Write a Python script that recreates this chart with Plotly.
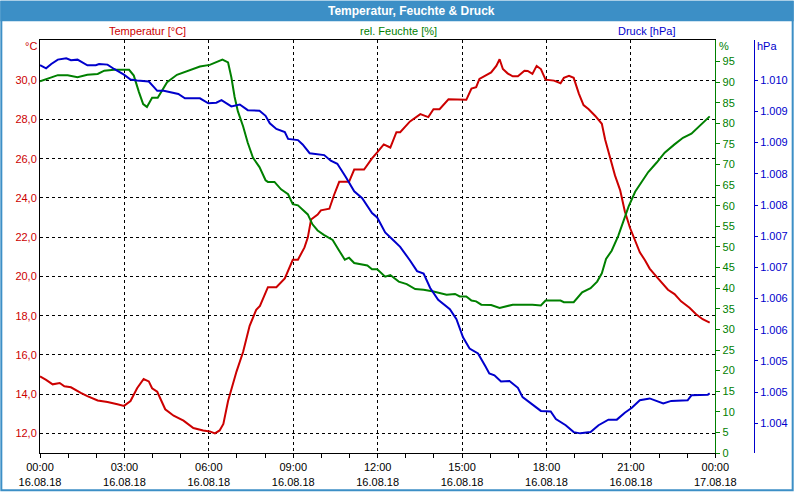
import plotly.graph_objects as go

DAY = "2018-08-16 "

# ---- Temperatur [°C] ----
temp_time = ["00:00", "00:13", "00:27", "00:42", "00:52", "01:06", "01:27", "01:41", "02:03", "02:24",
             "02:45", "02:59", "03:13", "03:27", "03:41", "03:52", "03:59", "04:10", "04:27", "04:45",
             "05:06", "05:27", "05:48", "06:02", "06:13", "06:23", "06:31", "06:41", "06:59", "07:13",
             "07:27", "07:41", "07:49", "08:06", "08:24", "08:42", "08:59", "09:10", "09:24", "09:31",
             "09:38", "09:52", "09:59", "10:17", "10:27", "10:38", "10:59", "11:10", "11:31", "11:48",
             "11:59", "12:13", "12:27", "12:40", "12:48", "13:09", "13:31", "13:48", "13:59", "14:12",
             "14:31", "15:09", "15:20", "15:30", "15:37", "15:51", "16:02", "16:13", "16:20", "16:27",
             "16:37", "16:48", "16:59", "17:13", "17:20", "17:30", "17:39", "17:48", "17:58", "18:16",
             "18:30", "18:37", "18:48", "18:58", "19:09", "19:19", "19:30", "19:44", "19:58", "20:05",
             "20:16", "20:26", "20:37", "20:47", "20:58", "21:09", "21:19", "21:30", "21:40", "21:55",
             "22:05", "22:19", "22:33", "22:47", "23:05", "23:19", "23:33", "23:48"]
temp_vals = [14.9, 14.73, 14.5, 14.57, 14.4, 14.35, 14.07, 13.9, 13.68, 13.6,
             13.48, 13.4, 13.65, 14.3, 14.77, 14.65, 14.3, 14.12, 13.23, 12.9,
             12.65, 12.27, 12.15, 12.1, 12.0, 12.15, 12.48, 13.65, 15.15, 16.15,
             17.48, 18.3, 18.5, 19.45, 19.45, 19.9, 20.85, 20.85, 21.48, 21.98,
             22.9, 23.15, 23.37, 23.45, 24.15, 24.82, 24.82, 25.45, 25.45, 26.02,
             26.32, 26.73, 26.57, 27.35, 27.35, 27.9, 28.27, 28.12, 28.52, 28.52,
             29.03, 29.0, 29.57, 29.65, 30.07, 30.27, 30.4, 30.73, 31.07, 30.57,
             30.35, 30.2, 30.2, 30.48, 30.47, 30.32, 30.73, 30.57, 30.03, 29.98,
             29.85, 30.12, 30.22, 30.12, 29.32, 28.73, 28.52, 28.18, 27.78, 26.98,
             25.98, 25.15, 24.4, 23.32, 22.48, 21.82, 21.23, 20.82, 20.4, 19.98,
             19.68, 19.32, 19.1, 18.73, 18.4, 18.07, 17.82, 17.65]

# ---- rel. Feuchte [%] ----
hum_time = ["00:00", "00:17", "00:38", "00:59", "01:20", "01:41", "02:03", "02:17", "02:38", "03:10",
            "03:20", "03:31", "03:40", "03:48", "03:59", "04:11", "04:20", "04:31", "04:52", "05:20",
            "05:41", "06:02", "06:16", "06:29", "06:41", "06:48", "06:55", "07:02", "07:13", "07:23",
            "07:34", "07:48", "08:01", "08:06", "08:20", "08:34", "08:49", "08:59", "09:10", "09:31",
            "09:41", "09:52", "10:06", "10:24", "10:38", "10:50", "10:59", "11:10", "11:38", "11:48",
            "11:59", "12:16", "12:27", "12:45", "13:02", "13:20", "13:38", "13:59", "14:27", "14:45",
            "14:55", "15:09", "15:20", "15:30", "15:41", "16:02", "16:20", "16:34", "16:48", "17:30",
            "17:48", "17:58", "18:30", "18:37", "18:58", "19:16", "19:34", "19:48", "19:58", "20:07",
            "20:19", "20:33", "20:44", "20:55", "21:09", "21:23", "21:37", "21:55", "22:12", "22:33",
            "22:51", "23:09", "23:30", "23:48"]
hum_vals = [90.2, 90.8, 91.7, 91.7, 91.2, 91.8, 92.0, 92.8, 93.0, 93.0,
            91.6, 87.6, 84.7, 84.0, 86.2, 86.2, 88.0, 90.0, 91.8, 93.0,
            93.8, 94.2, 94.8, 95.5, 94.8, 91.2, 86.4, 82.9, 79.3, 75.3,
            71.7, 69.4, 66.2, 65.8, 65.8, 64.0, 62.8, 60.4, 60.1, 57.9,
            55.5, 54.0, 52.9, 51.7, 49.1, 46.9, 47.4, 46.1, 45.5, 44.6,
            44.6, 42.8, 43.2, 41.6, 41.0, 39.8, 39.6, 39.2, 38.4, 38.6,
            38.0, 38.0, 37.0, 36.8, 36.0, 35.9, 35.2, 35.6, 36.0, 36.0,
            35.8, 37.0, 37.0, 36.6, 36.6, 39.0, 40.0, 41.6, 43.6, 47.1,
            49.1, 52.7, 56.3, 59.8, 63.4, 65.8, 68.2, 70.5, 72.9, 74.9,
            76.5, 77.5, 79.7, 81.7]

# ---- Druck [hPa] ----
pres_time = ["00:00", "00:13", "00:24", "00:38", "00:56", "01:06", "01:20", "01:41", "01:59", "02:06",
             "02:24", "02:38", "02:59", "03:13", "03:27", "03:52", "04:03", "04:10", "04:24", "04:34",
             "04:55", "05:09", "05:41", "05:59", "06:16", "06:27", "06:48", "07:06", "07:23", "07:48",
             "08:01", "08:10", "08:24", "08:42", "08:49", "09:10", "09:20", "09:35", "10:06", "10:20",
             "10:34", "10:52", "11:10", "11:27", "11:48", "11:59", "12:16", "12:34", "12:48", "13:09",
             "13:24", "13:38", "13:52", "14:09", "14:34", "14:48", "15:02", "15:16", "15:34", "15:50",
             "15:58", "16:09", "16:23", "16:41", "16:59", "17:09", "17:27", "17:48", "18:09", "18:20",
             "18:41", "18:58", "19:12", "19:34", "19:51", "20:12", "20:30", "20:47", "21:02", "21:19",
             "21:40", "21:55", "22:09", "22:26", "22:44", "23:01", "23:09", "23:44", "23:48"]
pres_vals = [1010.24, 1010.19, 1010.26, 1010.33, 1010.35, 1010.32, 1010.33, 1010.24, 1010.24, 1010.26,
             1010.25, 1010.18, 1010.09, 1010.01, 1009.995, 1009.98, 1009.89, 1009.83, 1009.83, 1009.81,
             1009.78, 1009.71, 1009.71, 1009.63, 1009.64, 1009.68, 1009.58, 1009.61, 1009.52, 1009.51,
             1009.43, 1009.31, 1009.22, 1009.17, 1009.06, 1009.04, 1008.97, 1008.83, 1008.80, 1008.71,
             1008.66, 1008.45, 1008.22, 1008.11, 1007.87, 1007.80, 1007.56, 1007.43, 1007.33, 1007.11,
             1006.94, 1006.90, 1006.67, 1006.48, 1006.33, 1006.17, 1005.88, 1005.70, 1005.62, 1005.41,
             1005.30, 1005.27, 1005.17, 1005.18, 1005.07, 1004.92, 1004.82, 1004.70, 1004.69, 1004.57,
             1004.47, 1004.36, 1004.34, 1004.36, 1004.47, 1004.56, 1004.56, 1004.67, 1004.75, 1004.87,
             1004.90, 1004.86, 1004.82, 1004.86, 1004.87, 1004.87, 1004.95, 1004.96, 1004.98]

# ---- axis ticks / labels ----
x_tick_times = ["2018-08-16 00:00", "2018-08-16 03:00", "2018-08-16 06:00", "2018-08-16 09:00",
                "2018-08-16 12:00", "2018-08-16 15:00", "2018-08-16 18:00", "2018-08-16 21:00",
                "2018-08-17 00:00"]
x_tick_labels = ["00:00<br>16.08.18", "03:00<br>16.08.18", "06:00<br>16.08.18", "09:00<br>16.08.18",
                 "12:00<br>16.08.18", "15:00<br>16.08.18", "18:00<br>16.08.18", "21:00<br>16.08.18",
                 "00:00<br>17.08.18"]
temp_ticks = [12, 14, 16, 18, 20, 22, 24, 26, 28, 30]
temp_tick_labels = ["12,0", "14,0", "16,0", "18,0", "20,0", "22,0", "24,0", "26,0", "28,0", "30,0"]
hum_ticks = [0, 5, 10, 15, 20, 25, 30, 35, 40, 45, 50, 55, 60, 65, 70, 75, 80, 85, 90, 95]
pres_ticks = [1004.5, 1005.0, 1005.5, 1006.0, 1006.5, 1007.0, 1007.5, 1008.0, 1008.5, 1009.0, 1009.5, 1010.0]
pres_tick_labels = ["1.004", "1.005", "1.005", "1.006", "1.006", "1.007", "1.007", "1.008", "1.008",
                    "1.009", "1.009", "1.010"]

RED = "#cc0000"
GREEN = "#008000"
BLUE = "#0000cc"
BAR = "#3c8fc6"
FONT = "Liberation Sans"

# pixel -> paper helpers (plot box spans x 40..760, y 40..461)
def px(x):
    return (x - 40) / 720.0

def py(y):
    return (461 - y) / 421.0

fig = go.Figure()
fig.add_trace(go.Scatter(x=[DAY + t for t in temp_time], y=temp_vals, mode="lines",
                         line=dict(color=RED, width=2), yaxis="y", name="Temperatur [°C]"))
fig.add_trace(go.Scatter(x=[DAY + t for t in hum_time], y=hum_vals, mode="lines",
                         line=dict(color=GREEN, width=2), yaxis="y2", name="rel. Feuchte [%]"))
fig.add_trace(go.Scatter(x=[DAY + t for t in pres_time], y=pres_vals, mode="lines",
                         line=dict(color=BLUE, width=2), yaxis="y3", name="Druck [hPa]"))

fig.update_layout(
    width=800, height=500,
    margin=dict(l=40, r=40, t=40, b=39, pad=0),
    paper_bgcolor="white", plot_bgcolor="white",
    showlegend=False,
    font=dict(family=FONT, size=11, color="black"),
    xaxis=dict(
        type="date", domain=[0, 681 / 720.0],
        range=["2018-08-16 00:00", "2018-08-17 00:00"],
        tickmode="array", tickvals=x_tick_times, ticktext=x_tick_labels,
        ticks="outside", ticklen=4, tickcolor="black", tickwidth=1,
        minor=dict(dtick=3600000, tick0="2018-08-16 00:00", ticks="outside", ticklen=4,
                   tickcolor="black", showgrid=False),
        showline=True, linecolor="black", linewidth=1, mirror=True,
        showgrid=True, gridcolor="black", gridwidth=1, griddash="3px,3px",
        zeroline=False, tickfont=dict(family=FONT, size=11, color="black"),
    ),
    yaxis=dict(
        range=[11, 32.05], tickmode="array", tickvals=temp_ticks, ticktext=temp_tick_labels,
        ticks="", showline=True, linecolor="black", linewidth=1,
        showgrid=True, gridcolor="black", gridwidth=1, griddash="3px,3px",
        zeroline=False, tickfont=dict(family=FONT, size=11, color=RED),
    ),
    yaxis2=dict(
        overlaying="y", side="right", anchor="x",
        range=[0, 421 / 4.2], tickmode="array", tickvals=hum_ticks,
        ticks="outside", ticklen=4, tickcolor=GREEN, showline=True, linecolor=GREEN, linewidth=1,
        showgrid=False, zeroline=False, tickfont=dict(family=FONT, size=11, color=GREEN),
    ),
    yaxis3=dict(
        overlaying="y", side="right", anchor="free", position=1.0,
        range=[1010 - 380 / 63.6, 1010 + 41 / 63.6], tickmode="array", tickvals=pres_ticks,
        ticktext=pres_tick_labels,
        ticks="outside", ticklen=3, tickcolor=BLUE, showline=True, linecolor=BLUE, linewidth=1,
        showgrid=False, zeroline=False, tickfont=dict(family=FONT, size=11, color=BLUE),
    ),
)

shapes = [
    dict(type="rect", xref="paper", yref="paper", x0=px(0), x1=px(800), y0=py(21), y1=py(0),
         fillcolor=BAR, line=dict(width=0), layer="below"),
    dict(type="rect", xref="paper", yref="paper", x0=px(1), x1=px(799), y0=py(499), y1=py(1),
         fillcolor="rgba(0,0,0,0)", line=dict(color=BAR, width=2), layer="above"),
]
fig.update_layout(shapes=shapes)

ann = [
    dict(text="<b>Temperatur, Feuchte &amp; Druck</b>", x=px(415), y=py(10), font=dict(color="white", size=12)),
    dict(text="Temperatur [°C]", x=px(148), y=py(31), font=dict(color=RED, size=11)),
    dict(text="rel. Feuchte [%]", x=px(402), y=py(31), font=dict(color=GREEN, size=11)),
    dict(text="Druck [hPa]", x=px(652), y=py(31), font=dict(color=BLUE, size=11)),
    dict(text="°C", x=px(31), y=py(46), font=dict(color=RED, size=11)),
    dict(text="%", x=px(730), y=py(46), font=dict(color=GREEN, size=11)),
    dict(text="hPa", x=px(773), y=py(46), font=dict(color=BLUE, size=11)),
]
for a in ann:
    fig.add_annotation(xref="paper", yref="paper", xanchor="center", yanchor="middle",
                       showarrow=False, font_family=FONT, **{k: v for k, v in a.items()})

fig.write_html("out.html")
